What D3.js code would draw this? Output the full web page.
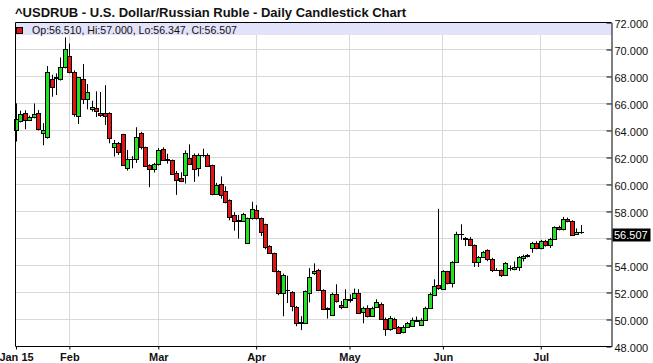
<!DOCTYPE html>
<html><head><meta charset="utf-8">
<script src="https://cdn.jsdelivr.net/npm/d3@7"></script>
<style>html,body{margin:0;padding:0;background:#fff;overflow:hidden}</style>
</head><body><svg id="c" width="653" height="363"></svg>
<script>
// ---- data ----
const startDate = "2015-01-15";
const holidays = ["2015-04-03"];
const openV = [64.04,64.68,65.27,64.78,64.98,65.27,63.79,63.50,67.78,67.93,67.78,68.72,69.51,68.35,65.07,67.78,66.35,65.59,65.64,65.27,
65.27,65.27,62.76,63.05,63.72,61.21,61.90,61.87,63.84,62.76,61.43,61.13,61.53,62.65,61.87,61.79,60.88,60.51,60.73,61.99,
62.21,61.25,62.21,62.21,61.42,59.33,60.07,59.50,58.82,57.71,57.37,57.29,55.65,57.49,58.10,57.49,57.05,55.45,54.91,53.56,
51.96,52.16,52.03,50.93,49.75,49.75,51.96,53.42,53.64,52.16,50.82,50.34,51.92,51.10,50.96,51.50,51.62,51.99,50.59,50.88,
50.27,50.96,51.18,50.07,49.33,50.07,49.45,49.11,49.48,49.53,49.90,49.62,49.95,50.88,51.82,52.55,52.24,53.57,52.73,54.28,
56.36,56.02,55.98,55.51,54.28,54.65,55.14,54.50,53.70,53.67,53.27,53.80,53.73,53.86,54.57,54.67,55.26,55.70,55.26,55.82,
55.50,56.00,56.86,56.68,57.47,57.30,56.36,56.510];
const highV = [66.01,65.47,65.50,65.10,66.00,65.52,64.55,68.77,68.13,68.23,69.41,70.90,70.44,68.45,67.95,68.92,67.44,66.20,66.90,66.85,
67.36,65.35,63.30,63.15,63.75,62.56,62.10,64.24,63.90,62.80,61.50,61.60,62.70,62.75,62.28,61.85,61.00,60.90,62.53,62.97,
62.30,62.30,62.65,62.30,61.47,60.12,60.60,59.86,58.90,57.95,57.75,57.90,57.55,58.72,58.47,57.55,57.10,55.50,54.95,53.65,
53.40,53.24,52.10,51.00,50.25,52.15,53.80,54.16,53.75,52.24,50.90,51.99,52.61,51.37,52.24,51.87,52.29,52.24,50.95,51.05,
50.95,51.50,51.26,50.14,50.26,50.14,49.52,49.58,49.82,50.14,50.22,50.10,50.95,51.99,52.98,58.20,53.65,53.60,54.32,56.50,
57.05,56.10,56.10,55.56,54.70,55.07,55.20,54.57,53.80,53.70,54.25,54.00,54.30,54.70,54.80,54.85,55.75,55.80,55.90,55.90,
56.05,56.90,56.95,57.60,57.55,57.35,56.75,57.000];
const lowV = [63.18,64.60,64.09,64.70,64.90,64.00,62.91,63.40,66.50,66.63,67.70,68.60,68.23,65.02,64.48,65.96,65.57,65.40,65.00,65.00,
64.41,63.05,62.07,62.19,61.40,61.03,61.20,61.60,62.60,61.30,59.80,60.89,61.40,61.80,61.54,60.75,59.23,60.20,60.07,61.50,
60.19,60.60,62.05,61.30,59.20,59.28,58.95,58.60,57.35,56.58,55.99,57.24,55.60,57.40,57.40,56.19,55.20,54.85,53.50,51.80,
50.24,51.22,50.61,49.50,49.21,49.70,51.27,53.30,52.10,50.76,50.07,50.27,51.25,50.76,50.90,51.25,51.55,50.46,49.72,50.15,
50.20,50.88,49.97,48.79,49.16,49.28,48.98,48.98,49.43,49.46,49.82,49.55,49.90,50.81,51.75,52.20,52.20,52.60,52.38,54.20,
55.90,55.45,55.45,53.90,53.89,54.58,54.32,53.52,53.60,53.15,53.22,53.60,53.65,53.60,54.30,54.60,54.95,55.20,55.20,55.40,
55.30,55.95,56.60,56.60,57.20,56.18,56.30,56.347];
const closeV = [64.88,65.22,64.78,65.02,65.22,64.09,64.04,68.37,67.19,67.90,68.67,70.07,68.35,65.22,67.93,66.31,66.82,65.71,65.44,65.12,
65.07,63.42,63.05,62.44,61.43,61.87,61.87,63.55,62.76,61.38,61.13,61.53,62.56,61.84,61.84,60.80,60.36,60.27,62.35,61.54,
61.17,62.16,62.20,61.37,59.26,60.00,59.21,58.69,57.61,57.32,57.29,57.78,57.49,58.15,57.49,56.51,55.40,54.91,53.56,51.96,
53.29,52.15,50.98,49.75,49.80,52.11,53.14,53.59,52.16,50.81,50.80,51.92,51.37,50.96,51.55,51.47,51.99,50.51,50.88,50.27,
50.88,51.30,50.02,49.33,50.14,49.40,49.03,49.48,49.77,49.95,49.93,49.97,50.88,51.92,52.48,52.35,53.57,52.73,54.28,56.36,
56.30,55.98,55.51,54.28,54.65,55.02,54.50,53.67,53.68,53.27,54.20,53.85,53.90,54.60,54.72,54.77,55.70,55.26,55.82,55.50,
56.00,56.86,56.68,57.47,57.30,56.29,56.51,56.507];
const yTickValues = [48,50,52,54,56,58,60,62,64,66,68,70,72];
const monthNames = ["Jan","Feb","Mar","Apr","May","Jun","Jul","Aug","Sep","Oct","Nov","Dec"];
const titleText = "^USDRUB - U.S. Dollar/Russian Ruble - Daily Candlestick Chart";

// trading days (weekdays minus holidays)
const dates = [];
{
  let d = new Date(startDate + "T12:00:00Z");
  while (dates.length < openV.length) {
    const iso = d.toISOString().slice(0,10);
    const wd = d.getUTCDay();
    if (wd !== 0 && wd !== 6 && !holidays.includes(iso)) dates.push(new Date(d));
    d = new Date(d.getTime() + 86400000);
  }
}
const candles = dates.map((d,i)=>({i, d, o:openV[i], h:highV[i], l:lowV[i], c:closeV[i]}));

// month ticks
const tickIdx = [0];
for (let i=1;i<dates.length;i++) if (dates[i].getUTCMonth() !== dates[i-1].getUTCMonth()) tickIdx.push(i);
const tickLabel = i => i===0 ? monthNames[dates[0].getUTCMonth()] + " " + dates[0].getUTCDate() : monthNames[dates[i].getUTCMonth()];

// ---- layout ----
const L = 15.5, R = 611.5, T = 22.5, B = 346.5;
const svg = d3.select("#c");
const x = d3.scaleLinear().domain([0, 133.8]).range([16, 611]);
const y = d3.scaleLinear().domain([48, 72]).range([B, T]);
const FONT = "'Liberation Sans', Arial, sans-serif";
const crisp = v => Math.floor(v) + 0.5;

svg.append("rect").attr("width",653).attr("height",363).attr("fill","#fff");

// gridlines
svg.append("g").selectAll("line").data(yTickValues.filter(v=>v>48 && v<72)).join("line")
  .attr("x1", L).attr("x2", R).attr("y1", d=>crisp(y(d))).attr("y2", d=>crisp(y(d)))
  .attr("stroke", "#d8d8d8").attr("stroke-width", 1);
svg.append("g").selectAll("line").data(tickIdx.slice(1)).join("line")
  .attr("x1", d=>crisp(x(d))).attr("x2", d=>crisp(x(d))).attr("y1", T).attr("y2", B)
  .attr("stroke", "#d8d8d8").attr("stroke-width", 1);

// legend band
svg.append("rect").attr("x", L).attr("y", T).attr("width", R-L).attr("height", 12.5).attr("fill", "#e2e2fa");

// candles
const cg = svg.append("g");
candles.forEach(k => {
  const cx = Math.round(x(k.i));
  cg.append("line").attr("x1", cx+0.5).attr("x2", cx+0.5)
    .attr("y1", y(k.h)).attr("y2", y(k.l)).attr("stroke", "#000").attr("stroke-width", 1);
  const top = Math.round(y(Math.max(k.o,k.c))), bot = Math.round(y(Math.min(k.o,k.c)));
  cg.append("rect").attr("x", cx-1.5).attr("width", 4)
    .attr("y", top+0.5).attr("height", Math.max(bot-top, 0.01))
    .attr("fill", k.c >= k.o ? "#22e022" : "#e21414")
    .attr("stroke", "#000").attr("stroke-width", 1);
});

// frame
svg.append("path").attr("d", `M${L},${T}H${R}M${L},${T}V${B}`).attr("stroke","#000").attr("fill","none");

// right axis
const ya = svg.append("g").attr("transform", `translate(${R},0)`)
  .call(d3.axisRight(y).tickValues(yTickValues).tickFormat(d3.format(".3f")).tickSize(0).tickPadding(3));
ya.select(".domain").attr("stroke","#000");
ya.selectAll(".tick text").attr("font-family", FONT).attr("font-size", 11).attr("fill","#111").attr("dy","0.42em");
ya.selectAll(".tick").append("line").attr("x1",-5).attr("x2",0).attr("stroke","#000");

// bottom axis
const xa = svg.append("g").attr("transform", `translate(0,${B})`)
  .call(d3.axisBottom(x).tickValues(tickIdx).tickFormat(tickLabel).tickSize(3).tickPadding(4));
xa.select(".domain").attr("d", `M${L},0H${R}`).attr("stroke","#000");
xa.selectAll(".tick line").attr("stroke","#000");
xa.selectAll(".tick text").attr("font-family", FONT).attr("font-size", 11).attr("font-weight","bold").attr("fill","#111");

// last price label
const last = candles[candles.length-1];
const ly = y(last.c);
ya.selectAll(".tick").filter(d => Math.abs(y(d) - ly) < 10).select("text").remove();
svg.append("rect").attr("x", 612.5).attr("y", Math.round(ly) - 3.5).attr("width", 38).attr("height", 13).attr("fill","#000");
svg.append("text").attr("x", 614).attr("y", Math.round(ly) + 7).text(d3.format(".3f")(last.c))
  .attr("font-family", FONT).attr("font-size", 11).attr("fill","#fff");

// legend
svg.append("rect").attr("x",16.5).attr("y",27.5).attr("width",6).attr("height",6).attr("fill","#e21414").attr("stroke","#000");
const f3 = d3.format(".3f");
svg.append("text").attr("x", 32).attr("y", 33.5)
  .text(`Op:${f3(last.o)}, Hi:${f3(last.h)}, Lo:${f3(last.l)}, Cl:${f3(last.c)}`)
  .attr("font-family", FONT).attr("font-size", 10.6).attr("fill","#111");

// title
svg.append("text").attr("x", 15).attr("y", 16.5).text(titleText)
  .attr("font-family", FONT).attr("font-size", 13).attr("font-weight","bold").attr("fill","#111");
</script></body></html>
